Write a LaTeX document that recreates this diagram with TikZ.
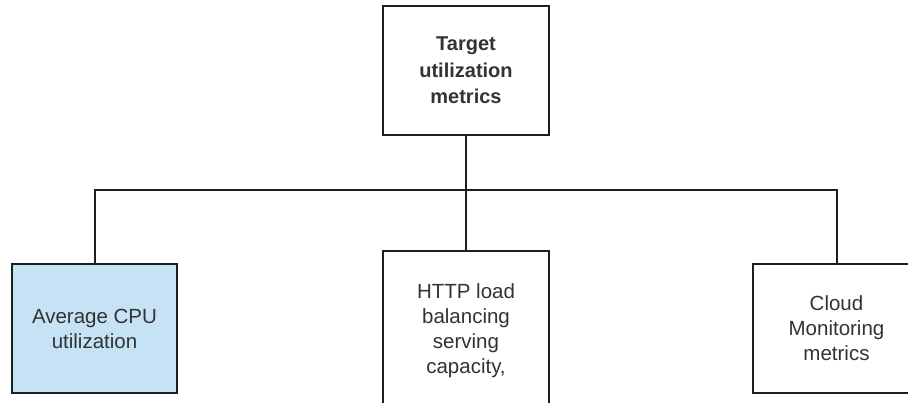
\documentclass[tikz,border=0pt]{standalone}
\usepackage{fontspec}
\setmainfont{Liberation Sans}
\definecolor{boxline}{HTML}{1E1E1E}
\definecolor{txt}{HTML}{333333}
\definecolor{cpublue}{HTML}{C5E3F5}
\begin{document}
\begin{tikzpicture}[x=1pt,y=-1pt,
  box/.style={draw=boxline,line width=2pt,fill=white,minimum width=166pt,minimum height=129pt,
    align=center,text=txt,font=\fontsize{20.5}{25}\selectfont,inner sep=0pt},
  conn/.style={draw=boxline,line width=2pt}]
\useasboundingbox (0,0) rectangle (908,402);
\clip (0,0) rectangle (908,402);
\fill[white] (0,0) rectangle (908,402);
\node[box,font=\fontsize{20}{26.5}\selectfont\bfseries] (top) at (466,70.5) {Target\\utilization\\metrics};
\node[box,fill=cpublue,minimum width=165pt] (cpu) at (94.5,328.5) {Average CPU\\utilization};
\node[box,minimum height=160pt] (http) at (466,331)
  {\raisebox{4.5pt}{\begin{tabular}{@{}c@{}}HTTP load\\balancing\\serving\\capacity,\end{tabular}}};
\node[box,minimum width=167pt] (cloud) at (836.5,328.5) {Cloud\\Monitoring\\metrics};
\coordinate (j) at (466,190);
\draw[conn] (top.south) -- (j);
\draw[conn] (j) -- (http.north);
\draw[conn] (cpu.north) |- (j) -| (cloud.north);
\end{tikzpicture}
\end{document}
